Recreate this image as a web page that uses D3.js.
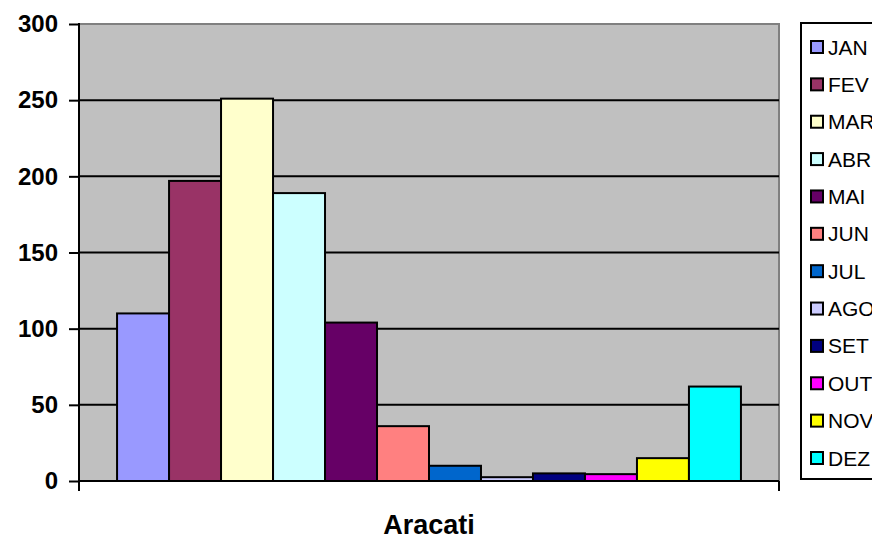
<!DOCTYPE html>
<html>
<head>
<meta charset="utf-8">
<script src="https://cdn.jsdelivr.net/npm/d3@7"></script>
<style>
  html, body { margin: 0; padding: 0; background: #fff; }
  svg { display: block; }
  text { font-family: "Liberation Sans", Arial, sans-serif; fill: #000; }
</style>
</head>
<body>
<svg id="chart" width="872" height="540"></svg>
<script>
// Monthly values for Aracati
const months = ["JAN", "FEV", "MAR", "ABR", "MAI", "JUN", "JUL", "AGO", "SET", "OUT", "NOV", "DEZ"];
const values = [110, 197, 251, 189, 104, 36, 10, 2.5, 5, 4.5, 15, 62];
const colors = ["#9999FF", "#993366", "#FFFFCC", "#CCFFFF", "#660066", "#FF8080",
                "#0066CC", "#CCCCFF", "#000080", "#FF00FF", "#FFFF00", "#00FFFF"];
const yTicks = [0, 50, 100, 150, 200, 250, 300];
const category = ["Aracati"];

const svg = d3.select("#chart");
const plot = { left: 79, right: 779, top: 24, bottom: 481 };

const y = d3.scaleLinear().domain([0, 300]).range([plot.bottom, plot.top]);
const x0 = d3.scaleBand().domain(category).range([plot.left, plot.right]).paddingInner(0).paddingOuter(0.061);
const x1 = d3.scaleBand().domain(months).range([0, x0.bandwidth()]);

// plot background
svg.append("rect")
  .attr("x", plot.left).attr("y", plot.top)
  .attr("width", plot.right - plot.left).attr("height", plot.bottom - plot.top)
  .attr("fill", "#C0C0C0").attr("stroke", "#808080").attr("stroke-width", 2);

// horizontal gridlines
svg.append("g")
  .selectAll("line")
  .data(yTicks.filter(t => t > 0 && t < 300))
  .join("line")
  .attr("x1", plot.left).attr("x2", plot.right)
  .attr("y1", d => y(d)).attr("y2", d => y(d))
  .attr("stroke", "#000").attr("stroke-width", 2);

// bars
svg.append("g")
  .selectAll("rect")
  .data(months.map((m, i) => ({ m, v: values[i], c: colors[i] })))
  .join("rect")
  .attr("x", d => x0("Aracati") + x1(d.m))
  .attr("y", d => y(d.v))
  .attr("width", x1.bandwidth())
  .attr("height", d => y(0) - y(d.v))
  .attr("fill", d => d.c)
  .attr("stroke", "#000").attr("stroke-width", 2);

// y axis
const yAxis = d3.axisLeft(y).tickValues(yTicks).tickSize(10).tickPadding(11);
const gy = svg.append("g").attr("transform", `translate(${plot.left},0)`).call(yAxis);
gy.select(".domain").remove();
gy.selectAll(".tick line").attr("stroke", "#000").attr("stroke-width", 2);
gy.selectAll(".tick text")
  .attr("font-family", null)
  .attr("font-size", 24).attr("font-weight", "bold").attr("fill", "#000");
gy.append("line")
  .attr("x1", 0).attr("x2", 0).attr("y1", plot.top - 1).attr("y2", plot.bottom + 10)
  .attr("stroke", "#000").attr("stroke-width", 2);

// x axis
const gx = svg.append("g").attr("transform", `translate(0,${plot.bottom})`);
gx.append("line")
  .attr("x1", plot.left).attr("x2", plot.right).attr("y1", 0).attr("y2", 0)
  .attr("stroke", "#000").attr("stroke-width", 2);
gx.selectAll("line.tk")
  .data([plot.left, plot.right])
  .join("line").attr("class", "tk")
  .attr("x1", d => d).attr("x2", d => d).attr("y1", 0).attr("y2", 10)
  .attr("stroke", "#000").attr("stroke-width", 2);
gx.append("text")
  .attr("x", (plot.left + plot.right) / 2).attr("y", 53)
  .attr("text-anchor", "middle")
  .attr("font-size", 27).attr("font-weight", "bold")
  .text(category[0]);

// legend
const legend = svg.append("g");
legend.append("rect")
  .attr("x", 801).attr("y", 23).attr("width", 110).attr("height", 456)
  .attr("fill", "#fff").attr("stroke", "#000").attr("stroke-width", 2);
const ly = d3.scalePoint().domain(months).range([47, 458]);
const items = legend.selectAll("g.item")
  .data(months.map((m, i) => ({ m, c: colors[i] })))
  .join("g").attr("class", "item")
  .attr("transform", d => `translate(0,${ly(d.m)})`);
items.append("rect")
  .attr("x", 811).attr("y", -6).attr("width", 12).attr("height", 12)
  .attr("fill", d => d.c).attr("stroke", "#000").attr("stroke-width", 2);
items.append("text")
  .attr("x", 828).attr("y", 7.5)
  .attr("font-size", 21)
  .text(d => d.m);
</script>
</body>
</html>
